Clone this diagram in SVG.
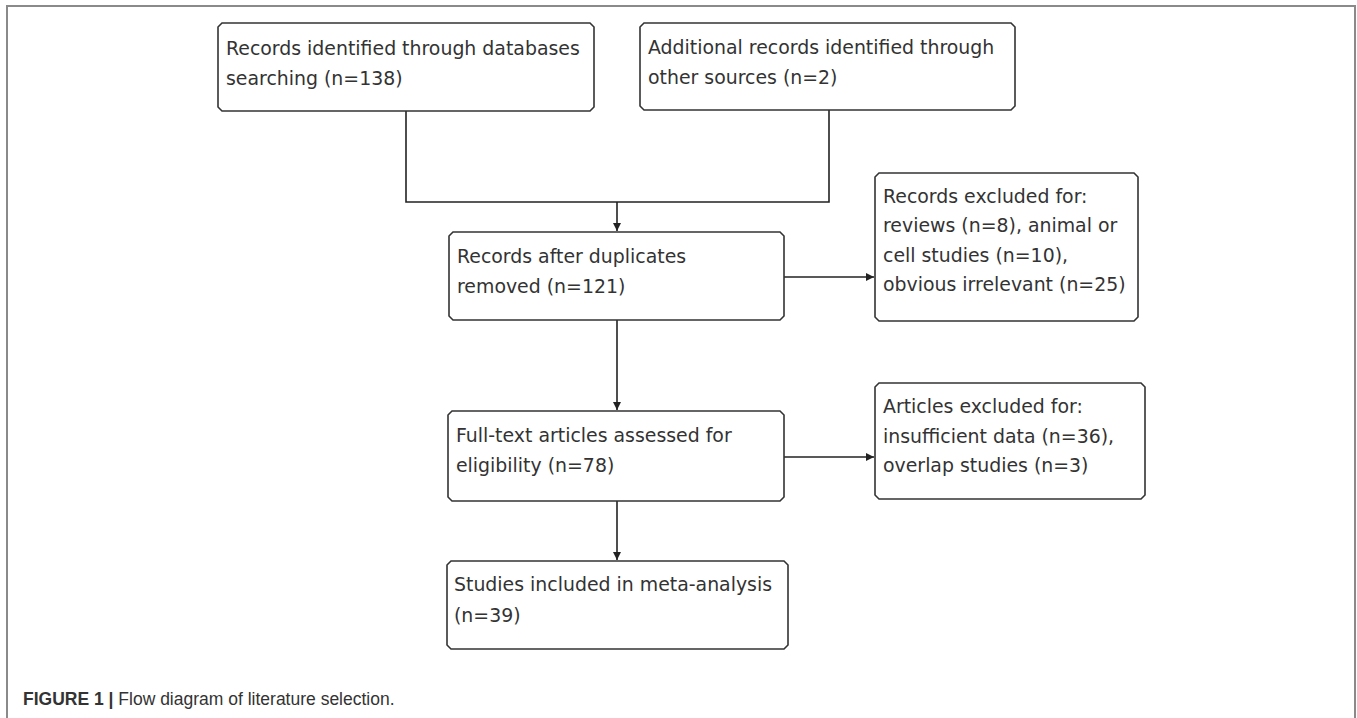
<svg xmlns="http://www.w3.org/2000/svg" width="1357" height="718" viewBox="0 0 1357 718">
<style>
.frame{fill:none;stroke:#8a8a8a;stroke-width:2}
.box{fill:#fff;stroke:#333;stroke-width:1.6}
.lbl{font-family:"DejaVu Sans",sans-serif;font-size:18.9px;fill:#333}
.conn{fill:none;stroke:#222;stroke-width:1.6}
.cap{font-family:"Liberation Sans",Arial,sans-serif;font-size:17.5px;fill:#333}
</style>
<defs>
<marker id="arr" viewBox="0 0 10 10" refX="10" refY="5" markerWidth="8" markerHeight="8" markerUnits="userSpaceOnUse" orient="auto">
<path d="M0,0 L10,5 L0,10 z" fill="#222"/>
</marker>
</defs>
<rect width="1357" height="718" fill="#fff"/>
<path class="frame" d="M7,718 V6 H1355 V718"/>
<g id="connectors">
<path class="conn" d="M406,111 V202 H829 V110"/>
<path class="conn" d="M617,202 V231" marker-end="url(#arr)"/>
<path class="conn" d="M617,320 V410" marker-end="url(#arr)"/>
<path class="conn" d="M617,501 V560" marker-end="url(#arr)"/>
<path class="conn" d="M784,277 H874" marker-end="url(#arr)"/>
<path class="conn" d="M784,457 H874" marker-end="url(#arr)"/>
</g>
<g id="n1">
<polygon class="box" points="222,23 590,23 594,27 594,107 590,111 222,111 218,107 218,27"/>
<text class="lbl" x="226" y="55">Records identified through databases</text>
<text class="lbl" x="226" y="85">searching (n=138)</text>
</g>
<g id="n2">
<polygon class="box" points="644,23 1011,23 1015,27 1015,106 1011,110 644,110 640,106 640,27"/>
<text class="lbl" x="648" y="54">Additional records identified through</text>
<text class="lbl" x="648" y="84">other sources (n=2)</text>
</g>
<g id="n3">
<polygon class="box" points="453,232 780,232 784,236 784,316 780,320 453,320 449,316 449,236"/>
<text class="lbl" x="457" y="263">Records after duplicates</text>
<text class="lbl" x="457" y="293">removed (n=121)</text>
</g>
<g id="n4">
<polygon class="box" points="879,173 1134,173 1138,177 1138,317 1134,321 879,321 875,317 875,177"/>
<text class="lbl" x="883" y="203">Records excluded for:</text>
<text class="lbl" x="883" y="232">reviews (n=8), animal or</text>
<text class="lbl" x="883" y="262">cell studies (n=10),</text>
<text class="lbl" x="883" y="291">obvious irrelevant (n=25)</text>
</g>
<g id="n5">
<polygon class="box" points="452,411 780,411 784,415 784,497 780,501 452,501 448,497 448,415"/>
<text class="lbl" x="456" y="442">Full-text articles assessed for</text>
<text class="lbl" x="456" y="472">eligibility (n=78)</text>
</g>
<g id="n6">
<polygon class="box" points="879,383 1141,383 1145,387 1145,495 1141,499 879,499 875,495 875,387"/>
<text class="lbl" x="883" y="413">Articles excluded for:</text>
<text class="lbl" x="883" y="443">insufficient data (n=36),</text>
<text class="lbl" x="883" y="472">overlap studies (n=3)</text>
</g>
<g id="n7">
<polygon class="box" points="451,561 784,561 788,565 788,645 784,649 451,649 447,645 447,565"/>
<text class="lbl" x="454" y="591">Studies included in meta-analysis</text>
<text class="lbl" x="454" y="622">(n=39)</text>
</g>
<text class="cap" x="23" y="705"><tspan font-weight="bold">FIGURE 1 |</tspan> Flow diagram of literature selection.</text>
</svg>
